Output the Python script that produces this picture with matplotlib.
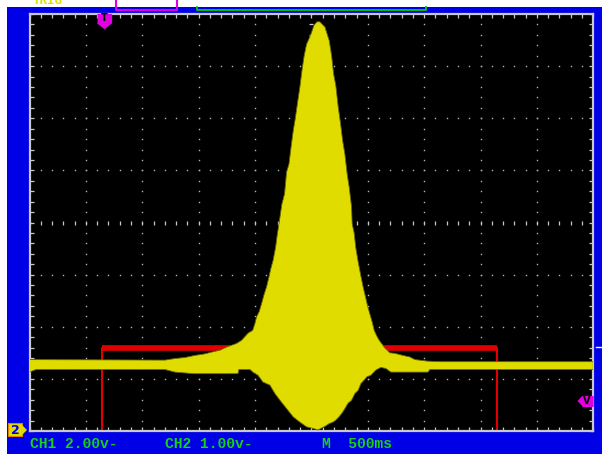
import numpy as np
import matplotlib
matplotlib.use("Agg")
import matplotlib.pyplot as plt
from matplotlib.patches import Rectangle, Polygon
from matplotlib.lines import Line2D
from matplotlib.transforms import Affine2D

# CH1 envelope: time (s, 500 ms/div) and level (screen divisions)
ch1_top_t = [0, 1.201, 1.290, 1.379, 1.467, 1.556, 1.627, 1.689, 1.748, 1.837,
             1.881, 1.910, 1.940, 1.979, 1.999, 2.014, 2.037, 2.059, 2.079, 2.103,
             2.121, 2.141, 2.161, 2.183, 2.197, 2.215, 2.238, 2.262, 2.280, 2.301,
             2.321, 2.339, 2.356, 2.378, 2.398, 2.418, 2.436, 2.457, 2.478, 2.502,
             2.522, 2.549, 2.575, 2.620, 2.658, 2.679, 2.697, 2.717, 2.738, 2.759,
             2.777, 2.797, 2.817, 2.835, 2.856, 2.862, 2.879, 2.894, 2.915, 2.939,
             2.959, 2.980, 2.998, 3.019, 3.039, 3.057, 3.078, 3.101, 3.122, 3.152,
             3.196, 3.240, 3.311, 3.373, 3.418, 3.533, 3.639, 5.0]
ch1_top_v = [-2.63, -2.64, -2.61, -2.59, -2.55, -2.52, -2.48, -2.45, -2.39, -2.32,
             -2.26, -2.19, -2.12, -2.07, -1.94, -1.81, -1.71, -1.55, -1.39, -1.23,
             -1.07, -0.88, -0.72, -0.47, -0.24, 0.01, 0.35, 0.55, 0.97, 1.12,
             1.47, 1.76, 1.98, 2.31, 2.60, 2.94, 3.20, 3.42, 3.52, 3.65,
             3.78, 3.85, 3.85, 3.75, 3.49, 3.20, 2.85, 2.62, 2.21, 1.89,
             1.57, 1.31, 0.93, 0.68, 0.30, -0.03, -0.20, -0.49, -0.76, -1.03,
             -1.24, -1.43, -1.60, -1.76, -1.91, -2.07, -2.17, -2.26, -2.32, -2.41,
             -2.50, -2.51, -2.55, -2.58, -2.63, -2.66, -2.67, -2.67]
ch1_bot_t = [0, 0.058, 1.201, 1.290, 1.458, 1.848, 1.857, 1.955, 1.981, 2.026,
             2.070, 2.132, 2.176, 2.221, 2.280, 2.339, 2.398, 2.457, 2.513, 2.558,
             2.602, 2.629, 2.655, 2.691, 2.717, 2.744, 2.770, 2.797, 2.824, 2.856,
             2.886, 2.915, 2.939, 2.965, 2.992, 3.027, 3.072, 3.116, 3.160, 3.205,
             3.533, 3.551, 5.0]
ch1_bot_v = [-2.87, -2.82, -2.82, -2.87, -2.90, -2.90, -2.82, -2.82, -2.87, -2.93,
             -3.06, -3.12, -3.28, -3.41, -3.57, -3.73, -3.83, -3.92, -3.95, -3.98,
             -3.93, -3.90, -3.86, -3.83, -3.79, -3.73, -3.66, -3.57, -3.47, -3.41,
             -3.28, -3.22, -3.09, -3.03, -2.96, -2.93, -2.83, -2.78, -2.80, -2.87,
             -2.87, -2.82, -2.82]

# CH2 gate pulse
ch2_edges = [0.647, 4.146]
ch2_high = -2.41
ch2_low = -4.4

trig_time = 0.66
trig_level = -3.43

status = ["CH1 2.00v-", "CH2 1.00v-", "M  500ms"]

BLUE = '#0000e6'
YELLOW = '#e0dc00'
RED = '#e00000'
MAGENTA = '#e000e0'
GREEN = '#18d018'
GRAY = '#c8c8c8'

fig = plt.figure(figsize=(6.02, 4.54), dpi=100, facecolor=BLUE)
px = Affine2D().scale(1 / 602, -1 / 454).translate(0, 1) + fig.transFigure

ax = fig.add_axes([29.5 / 602, 23 / 454, 563.8 / 602, 417 / 454], facecolor='black')
ax.set_xlim(0, 5)
ax.set_ylim(-4, 4)

# graticule
ax.set_xticks(np.arange(0, 5.001, 0.1))
ax.set_yticks(np.arange(-4, 4.001, 0.2))
ax.tick_params(direction='in', length=3, width=0.9, color=GRAY, top=True, right=True,
               labelbottom=False, labelleft=False)
for s in ax.spines.values():
    s.set_color(GRAY)
    s.set_linewidth(1.6)

xs = np.arange(0, 5.001, 0.1)
ys = np.arange(-4, 4.001, 0.2)
dx, dy = [], []
for k in np.arange(0.5, 4.9, 0.5):
    if abs(k - 2.5) > 1e-6:
        dx += [k] * len(ys)
        dy += list(ys)
for k in range(-3, 4):
    if k != 0:
        dx += list(xs)
        dy += [k] * len(xs)
ax.plot(dx, dy, ls='none', marker='s', ms=1.0, mec='none', mfc='#b4b4b4', zorder=1)
ax.plot(xs, np.zeros_like(xs), ls='none', marker='|', ms=3.5, mew=0.9, color=GRAY, zorder=1)
ax.plot(np.full_like(ys, 2.5), ys, ls='none', marker='_', ms=3.5, mew=0.9, color=GRAY, zorder=1)

# CH2 (red)
t2 = [0, ch2_edges[0], ch2_edges[0], ch2_edges[1], ch2_edges[1], 5]
v2 = [ch2_low, ch2_low, ch2_high, ch2_high, ch2_low, ch2_low]
ax.plot(t2, v2, color=RED, lw=1.5, zorder=2)
ax.plot(ch2_edges, [ch2_high, ch2_high], color=RED, lw=4.1, solid_capstyle='butt', zorder=2)

# CH1 (yellow)
ax.fill(np.r_[ch1_top_t, ch1_bot_t[::-1]], np.r_[ch1_top_v, ch1_bot_v[::-1]],
        fc=YELLOW, ec='#6a6800', lw=0.6, zorder=3)

# trigger markers
ax.scatter([trig_time], [3.87], s=100, c=MAGENTA, clip_on=False, zorder=5,
           marker=[(-1, 1), (1, 1), (1, -0.2), (0, -1), (-1, -0.2)])
ax.text(trig_time, 3.92, 'T', color='black', fontsize=7, fontweight='bold',
        ha='center', va='center', zorder=6)
ax.scatter([4.929], [trig_level], s=117, c=MAGENTA, clip_on=False, zorder=5,
           marker=[(-1, 0), (-0.4, 0.65), (1, 0.65), (1, -0.65), (-0.4, -0.65)])
ax.text(4.945, trig_level, 'V', color='black', fontsize=7, fontweight='bold',
        ha='center', va='center', zorder=6)

# screen chrome
fig.add_artist(Rectangle((0, 0), 7, 454, transform=px, fc='white', ec='none'))
fig.add_artist(Rectangle((0, 0), 602, 7.3, transform=px, fc='white', ec='none'))
fig.add_artist(Line2D([116, 116, 177, 177], [0, 10, 10, 0], transform=px, color=MAGENTA, lw=1.5))
fig.add_artist(Line2D([197, 197, 426, 426], [7, 9.5, 9.5, 7], transform=px, color='#00d000', lw=1.3))
fig.text(33, 1.5, "TRIG", transform=px, color=YELLOW, fontsize=9, fontweight='bold',
         family='Liberation Mono', va='center')
fig.add_artist(Line2D([596, 602], [346.5, 346.5], transform=px, color='white', lw=1))
fig.add_artist(Rectangle((8, 423), 14, 13, transform=px, fc=YELLOW, ec='#e08000', lw=0.8))
fig.add_artist(Polygon([(22, 425), (27, 430), (22, 435)], transform=px, fc=YELLOW, ec='none'))
fig.text(15, 430, "2", transform=px, color=BLUE, fontsize=9, fontweight='bold',
         ha='center', va='center')

for s, x in zip(status, [30, 165, 322]):
    fig.text(x, 444.5, s, transform=px, color=GREEN, fontsize=10.5, fontweight='bold',
             family='Liberation Mono', va='center')

fig.savefig("out.png", dpi=100, facecolor=BLUE)
